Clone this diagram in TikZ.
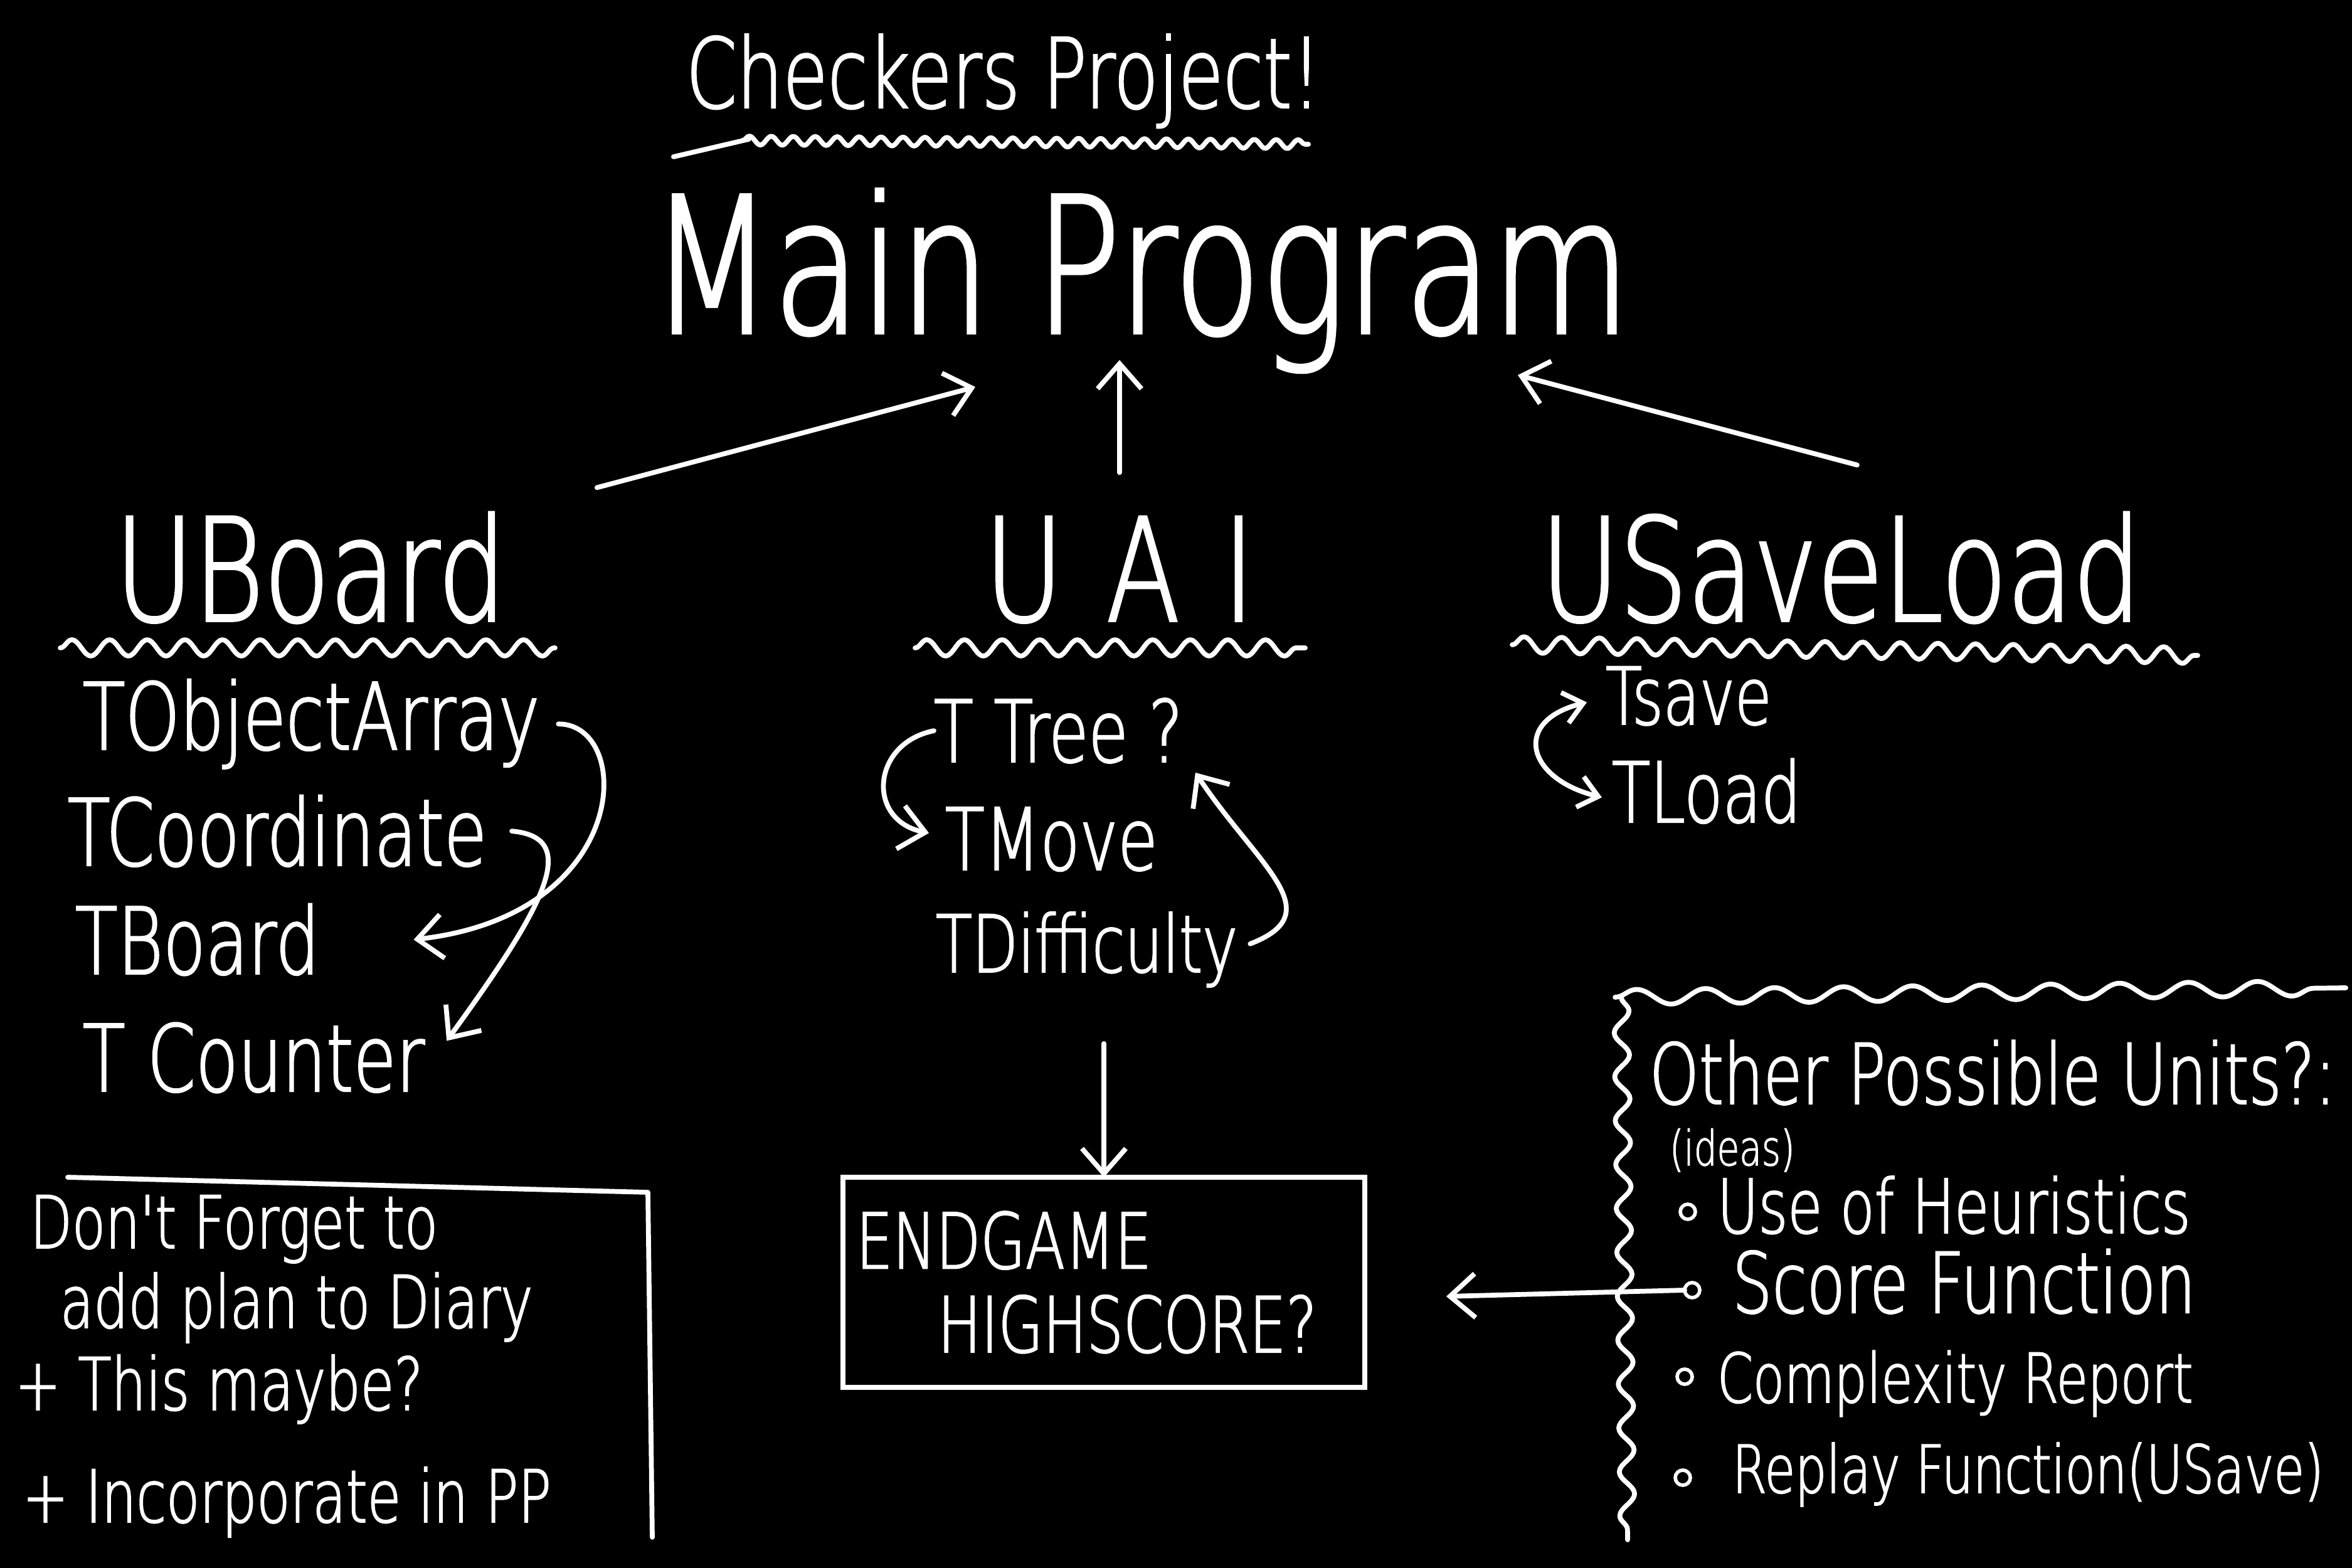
\documentclass[tikz,border=0pt]{standalone}
\usepackage{fontspec}
\usepackage{tikz}
\usetikzlibrary{calc, arrows.meta, decorations.pathmorphing}
\newfontfamily\handfont[FakeStretch=0.75, FakeBold=1.6]{DejaVu Sans ExtraLight}
\newcommand{\hw}[1]{\handfont\fontsize{#1}{#1}\selectfont}

\begin{document}
\begin{tikzpicture}[%
  every node/.append style={%
    text=white,
    inner sep=0pt,
    outer sep=0pt,
  },
  pen/.style={white, line width=2.2pt, line cap=round, line join=round},
  wavy/.style={pen, decorate, decoration={snake, amplitude=1.3mm, segment length=6mm}},
  item/.style={anchor=base west},
  bullet/.style={circle, draw=white, line width=1.6pt, minimum size=2.4mm},
  >={Straight Barb[length=4mm, width=7mm]},
  ]
% board
\fill[black] (0,0) rectangle (37.5,25);
\useasboundingbox (0,0) rectangle (37.5,25);

% title
\node[anchor=base, font=\hw{44}] (title) at (16.0,23.28) {Checkers Project!};
\draw[pen, decorate, decoration={snake, amplitude=0.7mm, segment length=3.5mm}]
  ($(title.base west)+(0.9,-0.52)$) -- ($(title.base east)+(-0.2,-0.58)$);
\draw[pen] ($(title.base west)+(-0.2,-0.78)$) -- ($(title.base west)+(1.0,-0.5)$);

% main program
\node[anchor=base, font=\hw{86}] (main) at (18.18,19.69) {Main Program};

% units
\node[anchor=base, font=\hw{65}] (uboard) at (4.95,15.1) {UBoard};
\node[anchor=base, font=\hw{65}] (uai) at (17.85,15.1) {U\hspace{.3em}A\hspace{.3em}I};
\node[anchor=base, font=\hw{65}] (usave) at (29.35,15.1) {USaveLoad};
\draw[wavy] (0.96,14.67) -- (8.85,14.67);
\draw[wavy] (14.59,14.67) -- (20.81,14.67);
\draw[wavy] (24.11,14.72) -- (35.04,14.55);

% into main program
\draw[pen, ->] ([shift={(1.45,0.39)}]uboard.north east) -- ([shift={(-2.63,-0.86)}]main.base);
\draw[pen, ->] ([yshift=7mm]uai.north) -- ($(uai.north |- main.base)+(0,-0.43)$);
\draw[pen, ->] ([shift={(0.26,0.75)}]usave.north) -- ([shift={(6.02,-0.67)}]main.base);

% UBoard types
\node[item, font=\hw{42}] (oarr) at (1.32,13.05) {TObjectArray};
\node[item, font=\hw{42}] (coord) at (1.08,11.2) {TCoordinate};
\node[item, font=\hw{42}] (tboard) at (1.2,9.47) {TBoard};
\node[item, font=\hw{42}] (counter) at (1.32,7.6) {T Counter};
\draw[pen, ->] ([xshift=3mm]oarr.east) .. controls +(1.2,0) and +(3.5,0.4) .. ([xshift=15mm]tboard.east);
\draw[pen, ->] ([xshift=4mm]coord.east) .. controls +(1.1,-0.1) and +(1.6,2.2) .. ([shift={(0.35,0.27)}]counter.east);

% UAI types
\node[item, font=\hw{39}] (ttree) at (14.89,12.85) {T Tree ?};
\node[item, font=\hw{39}] (tmove) at (15.07,11.13) {TMove};
\node[item, font=\hw{36}] (diff) at (14.92,9.5) {TDifficulty};
\draw[pen, ->] (ttree.west) .. controls +(-1.0,-0.2) and +(-1.0,0.2) .. ([shift={(-0.26,0.1)}]tmove.west);
\draw[pen, ->] ([shift={(0.2,0.09)}]diff.east) .. controls +(1.3,0.5) and +(1.0,-1.5) .. ([shift={(0.2,-0.15)}]ttree.south east);

% USaveLoad types
\node[item, font=\hw{36}] (tsave) at (25.6,13.45) {Tsave};
\node[item, font=\hw{38}] (tload) at (25.7,11.89) {TLoad};
\draw[pen, <->, >={Straight Barb[length=3mm, width=5mm]}] ([shift={(-0.3,-0.1)}]tsave.west) .. controls +(-1.2,-0.3) and +(-1.2,0.3) .. ([shift={(-0.16,-0.1)}]tload.west);

% endgame
\node[draw=white, line width=2.2pt, minimum width=8.32cm, minimum height=3.35cm,
  text width=7.9cm, align=left, inner xsep=2.1mm, font=\hw{35}] (endgame) at (17.6,4.555)
  {\mbox{ENDGAME}\\[3pt]\hspace*{1.3cm}\mbox{HIGHSCORE?}};
\draw[pen, ->] ($(endgame.north |- diff.south)+(0,-0.9)$) -- (endgame.north);

% reminder
\draw[pen] (1.08,6.23) -- (10.33,5.99) -- (10.40,0.49);
\node[item, font=\hw{33}] (dont) at (0.48,5.1) {Don't Forget to};
\node[item, font=\hw{33}] (diary) at (0.96,3.83) {add plan to Diary};
\node[item, font=\hw{33}] (maybe) at (0.24,2.52) {+ This maybe?};
\node[item, font=\hw{33}] (incorp) at (0.36,0.73) {+ Incorporate in PP};

% other units
\draw[pen, decorate, decoration={snake, amplitude=1.2mm, segment length=11mm}] (25.75,9.1) -- (37.4,9.25);
\draw[pen, decorate, decoration={snake, amplitude=1.2mm, segment length=7mm}] (25.85,9.1) -- (25.95,0.45);
\node[item, font=\hw{38}] (other) at (26.3,7.4) {Other Possible Units?:};
\node[item, font=\hw{22}] (ideas) at (26.62,6.42) {(ideas)};
\node[bullet] (b1) at (26.91,5.68) {};
\node[bullet] (b2) at (26.98,4.43) {};
\node[bullet] (b3) at (26.86,3.05) {};
\node[bullet] (b4) at (26.83,1.44) {};
\node[item, font=\hw{34}] (heur) at (27.38,5.34) {Use of Heuristics};
\node[item, font=\hw{38}] (score) at (27.62,4.07) {Score Function};
\node[item, font=\hw{31}] (cplx) at (27.38,2.64) {Complexity Report};
\node[item, font=\hw{30}] (replay) at (27.62,1.2) {Replay Function(USave)};
\draw[pen, ->] (b2.west) -- ($(endgame.east |- b2.west)+(1.3,-0.1)$);
\end{tikzpicture}
\end{document}
